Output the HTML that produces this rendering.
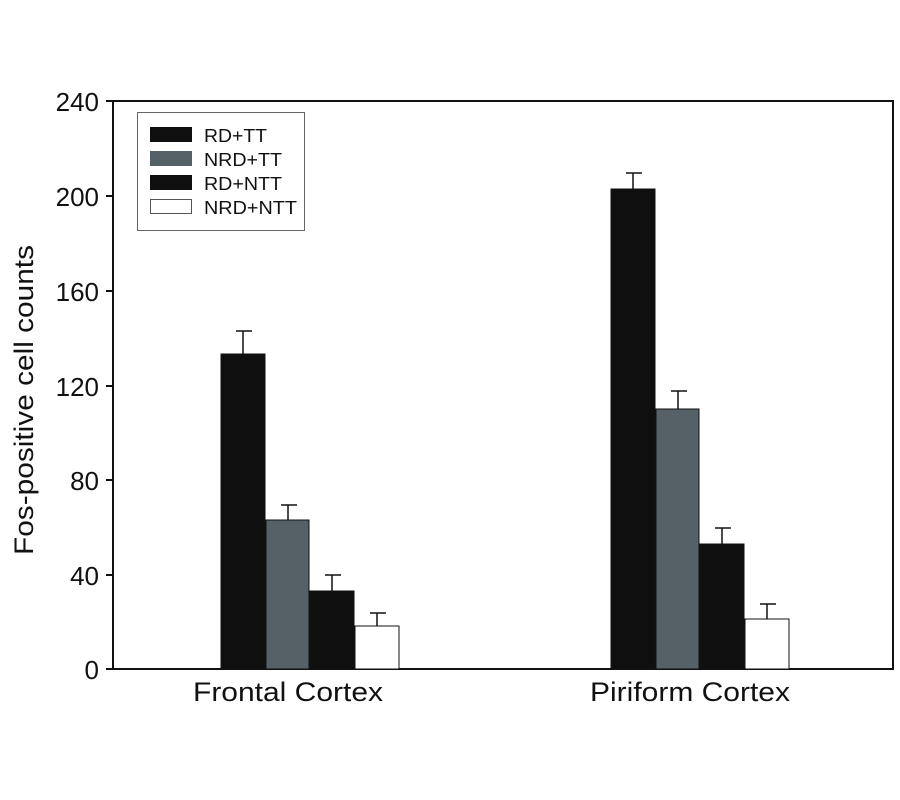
<!DOCTYPE html>
<html><head><style>body{margin:0;background:#fff}svg{display:block}</style></head><body>
<svg width="900" height="800" xmlns="http://www.w3.org/2000/svg" font-family="Liberation Sans, sans-serif">
<rect width="900" height="800" fill="#fff"/>
<g stroke="#111" stroke-width="2" fill="none">
<path d="M113 101 H893 V669 H113 Z"/>
<path d="M106 101H113M106 196H113M106 291H113M106 386H113M106 480H113M106 575H113M106 669H113"/>
</g>
<g font-size="26" text-anchor="end" fill="#111">
<text x="99" y="111">240</text><text x="99" y="206">200</text><text x="99" y="301">160</text>
<text x="99" y="396">120</text><text x="99" y="490">80</text><text x="99" y="585">40</text><text x="99" y="679">0</text>
</g>
<text transform="translate(33,400) rotate(-90)" font-size="27" text-anchor="middle" fill="#111" textLength="310" lengthAdjust="spacingAndGlyphs">Fos-positive cell counts</text>
<text x="193" y="701" font-size="27" fill="#111" textLength="190" lengthAdjust="spacingAndGlyphs">Frontal Cortex</text>
<text x="590" y="701" font-size="27" fill="#111" textLength="200" lengthAdjust="spacingAndGlyphs">Piriform Cortex</text>
<g stroke="#111" stroke-width="1.5">
<line x1="243" y1="331" x2="243" y2="354"/><line x1="236" y1="331" x2="252" y2="331"/>
<line x1="288" y1="505" x2="288" y2="520"/><line x1="281" y1="505" x2="297" y2="505"/>
<line x1="332" y1="575" x2="332" y2="591"/><line x1="325" y1="575" x2="341" y2="575"/>
<line x1="377" y1="613" x2="377" y2="626"/><line x1="370" y1="613" x2="386" y2="613"/>
<line x1="633" y1="173" x2="633" y2="189"/><line x1="626" y1="173" x2="642" y2="173"/>
<line x1="678" y1="391" x2="678" y2="409"/><line x1="671" y1="391" x2="687" y2="391"/>
<line x1="722" y1="528" x2="722" y2="544"/><line x1="715" y1="528" x2="731" y2="528"/>
<line x1="767" y1="604" x2="767" y2="619"/><line x1="760" y1="604" x2="776" y2="604"/>
</g>
<g stroke="#111" stroke-width="1">
<rect x="221" y="354" width="44" height="315" fill="#0f0f10"/>
<rect x="266" y="520" width="43" height="149" fill="#566167"/>
<rect x="310" y="591" width="44" height="78" fill="#0f0f10"/>
<rect x="355" y="626" width="44" height="43" fill="#fff"/>
<rect x="611" y="189" width="44" height="480" fill="#0f0f10"/>
<rect x="656" y="409" width="43" height="260" fill="#566167"/>
<rect x="700" y="544" width="44" height="125" fill="#0f0f10"/>
<rect x="745" y="619" width="44" height="50" fill="#fff"/>
</g>
<rect x="137.5" y="112.5" width="167" height="118" fill="#fff" stroke="#666" stroke-width="1"/>
<rect x="150" y="127" width="42" height="15" fill="#0f0f10"/>
<rect x="150" y="151" width="42" height="15" fill="#566167"/>
<rect x="150" y="175" width="42" height="15" fill="#0f0f10"/>
<rect x="150.5" y="199.5" width="41" height="14" fill="#fff" stroke="#555"/>
<g font-size="18" fill="#111">
<text x="204" y="142" textLength="63" lengthAdjust="spacingAndGlyphs">RD+TT</text>
<text x="204" y="166" textLength="78" lengthAdjust="spacingAndGlyphs">NRD+TT</text>
<text x="204" y="190" textLength="78" lengthAdjust="spacingAndGlyphs">RD+NTT</text>
<text x="204" y="214" textLength="93" lengthAdjust="spacingAndGlyphs">NRD+NTT</text>
</g>
</svg>
</body></html>
